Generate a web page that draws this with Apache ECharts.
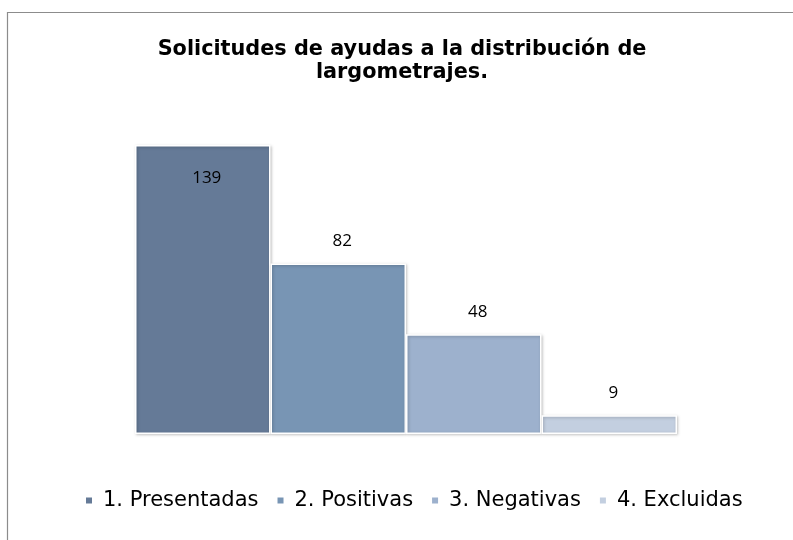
<!DOCTYPE html>
<html><head><meta charset="utf-8">
<script src="https://cdn.jsdelivr.net/npm/echarts@6/dist/echarts.min.js"></script>
<style>html,body{margin:0;padding:0;background:#fff}#c{width:793px;height:540px}</style>
</head><body><div id="c"></div>
<script>
const titleText = 'Solicitudes de ayudas a la distribución de\nlargometrajes.';
const categories = [''];
const seriesNames = ['1. Presentadas', '2. Positivas', '3. Negativas', '4. Excluidas'];
const seriesValues = [139, 82, 48, 9];
const colors = ['#657A97', '#7895B4', '#9DB1CD', '#C3CFE0'];

const chart = echarts.init(document.getElementById('c'));
const series = seriesNames.map((name, i) => ({
  name: name,
  type: 'bar',
  data: [seriesValues[i]],
  barGap: '0%',
  barCategoryGap: '0%',
  itemStyle: {
    color: colors[i],
    borderColor: '#ffffff',
    borderWidth: 1.5,
    shadowColor: 'rgba(0,0,0,0.25)',
    shadowBlur: 3,
    shadowOffsetX: 1,
    shadowOffsetY: 1
  },
  label: {
    show: true,
    position: i === 0 ? 'insideTop' : 'top',
    distance: i === 0 ? 25 : 14,
    offset: [4, 0],
    color: '#000',
    fontFamily: 'Open Sans',
    fontSize: 17
  }
}));

chart.setOption({
  animation: false,
  color: colors,
  graphic: [{
    type: 'rect',
    left: 5, top: 10,
    shape: { width: 900, height: 700 },
    style: { fill: 'none', stroke: '#8c8c8c', lineWidth: 1.2 },
    silent: true
  }],
  title: {
    text: titleText,
    left: 397,
    textAlign: 'center',
    top: 33,
    textStyle: {
      fontFamily: 'DejaVu Sans',
      fontWeight: 'bold',
      fontSize: 20.8,
      lineHeight: 23,
      color: '#000'
    }
  },
  legend: {
    data: seriesNames,
    top: 485,
    left: 79,
    itemWidth: 8,
    itemHeight: 8,
    itemGap: 17,
    icon: 'rect',
    textStyle: { fontFamily: 'DejaVu Sans', fontSize: 21, color: '#000', padding: [0, 0, 0, 5] }
  },
  grid: { left: 135, right: 116, top: 145, bottom: 106 },
  xAxis: {
    type: 'category',
    data: categories,
    axisLine: { show: false },
    axisTick: { show: false },
    axisLabel: { show: false }
  },
  yAxis: {
    type: 'value',
    min: 0,
    max: 139,
    show: false,
    splitLine: { show: false }
  },
  series: series
});
</script></body></html>
